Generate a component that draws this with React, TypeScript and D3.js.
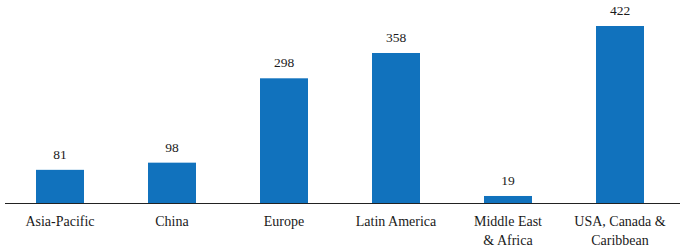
import React from "react";
import * as d3 from "d3";

const categories = ["Asia-Pacific", "China", "Europe", "Latin America", "Middle East & Africa", "USA, Canada & Caribbean"];
const labelLines = [["Asia-Pacific"], ["China"], ["Europe"], ["Latin America"], ["Middle East", "& Africa"], ["USA, Canada &", "Caribbean"]];
const values = [81, 98, 298, 358, 19, 422];

const W = 680;
const H = 250;
const baseY = 204;
const font = "Liberation Serif, Times New Roman, serif";

export default function App() {
  const x = d3.scaleBand<string>().domain(categories).range([4, 676]).paddingInner(0.5714).paddingOuter(0.2857);
  const y = d3.scaleLinear().domain([0, 422]).range([baseY, 26]);
  return (
    <svg width={W} height={H} style={{ position: "absolute", left: 0, top: 0 }}>
      {categories.map((c, i) => {
        const bx = x(c)!;
        const cx = bx + x.bandwidth() / 2;
        return (
          <g key={c}>
            <rect x={bx} y={y(values[i])} width={x.bandwidth()} height={baseY - y(values[i])} fill="#1172bd" />
            <text x={cx} y={y(values[i]) - 11} textAnchor="middle" style={{ fontFamily: font, fontSize: 13.5 }} fill="#1a1a1a">
              {values[i]}
            </text>
            {labelLines[i].map((l, j) => (
              <text key={j} x={cx} y={226 + j * 19} textAnchor="middle" style={{ fontFamily: font, fontSize: 14 }} fill="#1a1a1a">
                {l}
              </text>
            ))}
          </g>
        );
      })}
      <line x1={5} x2={680} y1={baseY - 0.5} y2={baseY - 0.5} stroke="#222" strokeWidth={1} />
    </svg>
  );
}
